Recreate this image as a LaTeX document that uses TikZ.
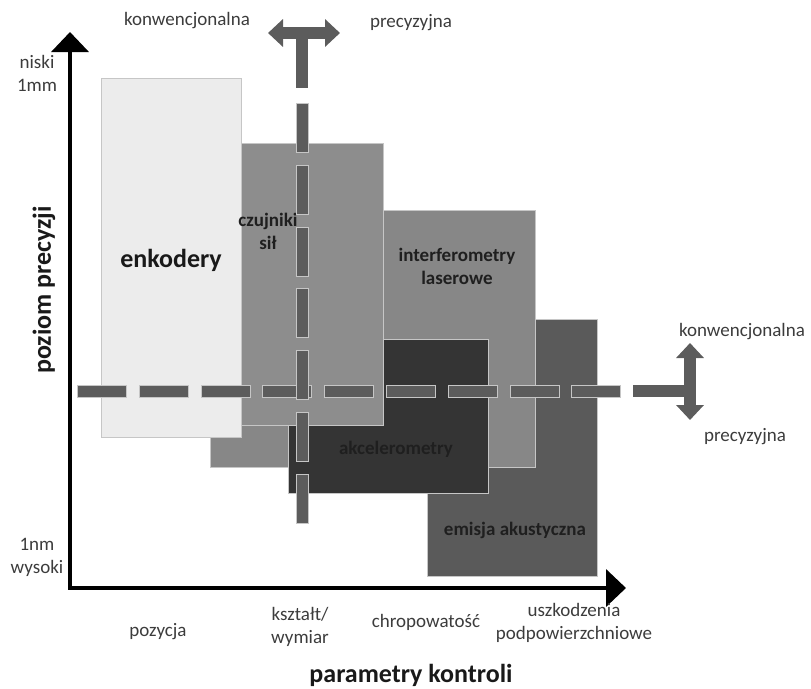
\documentclass[tikz,border=0pt]{standalone}
\usepackage{fontspec}
\setmainfont{Carlito}
\usepackage{xcolor}
\usepackage{tikz}
\usetikzlibrary{arrows.meta, positioning}
\definecolor{PP_LIGHT}{HTML}{ECECEC}
\definecolor{PP_MID}{HTML}{8D8D8D}
\definecolor{PP_MID2}{HTML}{878787}
\definecolor{PP_DARK}{HTML}{343434}
\definecolor{PP_EMIS}{HTML}{5A5A5A}
\definecolor{PP_DASH}{HTML}{5C5C5C}
\definecolor{PP_EDGE}{HTML}{C6C6C6}
\definecolor{PP_TEXT}{HTML}{3C3C3C}
\tikzset{
  zone/.style={
    rectangle, anchor=north west, inner sep=0pt,
    draw=PP_EDGE, line width=0.8pt},
  lbl/.style={
    align=center, inner sep=0pt, text=PP_TEXT,
    font=\fontsize{19}{23}\selectfont},
  boxlbl/.style={
    align=center, inner sep=0pt, text=black!88,
    font=\bfseries\fontsize{19}{23}\selectfont},
  heading/.style={
    align=center, inner sep=0pt, text=black!90,
    font=\bfseries\fontsize{26}{30}\selectfont},
  dashbox/.style={
    rectangle, inner sep=0pt,
    fill=PP_DASH, draw=PP_EDGE, line width=0.6pt},
  axisline/.style={
    line width=4pt, line join=miter,
    {Triangle[length=20pt,width=37pt]}-{Triangle[length=20pt,width=37pt]}},
  dblarr/.style={
    line width=12pt, color=PP_DASH,
    {Triangle[length=15pt,width=27pt]}-{Triangle[length=15pt,width=27pt]}},
  stem/.style={line width=12pt, color=PP_DASH},
}

\begin{document}
\begin{tikzpicture}[x=1pt, y=-1pt]

  \useasboundingbox (0,0) rectangle (811,688);

  % measuring methods, back to front
  \node[zone, fill=PP_EMIS, minimum width=170pt, minimum height=257pt] (emis) at (427,319) {};
  \node[zone, fill=PP_MID2, minimum width=325pt, minimum height=257pt] (intf) at (210,210) {};
  \node[zone, fill=PP_DARK, minimum width=200pt, minimum height=154pt] (akc)  at (288,339) {};
  \node[zone, fill=PP_MID,  minimum width=142pt, minimum height=282pt] (czuj) at (241,143) {};
  \node[zone, fill=PP_LIGHT, minimum width=140pt, minimum height=359pt] (enk) at (101,78) {};

  \node[heading] (enkL) at (171,260) {enkodery};
  \node[boxlbl] (czujL) at (268,231) {czujniki\\sił};
  \node[boxlbl] (intfL) at (457,266) {interferometry\\laserowe};
  \node[boxlbl] (akcL)  at (396,449) {akcelerometry};
  \node[boxlbl] (emisL) at (515,530) {emisja akustyczna};

  % axes
  \coordinate (ytip)   at (70,32);
  \coordinate (origin) at (70,588);
  \coordinate (xtip)   at (626,588);
  \draw[axisline] (ytip) -- (origin) -- (xtip);

  % horizontal border line
  \foreach \i in {0,...,8}
    \node[dashbox, anchor=west, minimum width=49pt, minimum height=12pt]
      (hd\i) at (77+61.8*\i,391) {};
  \node[dashbox, draw=none, anchor=west, minimum width=57pt, minimum height=12pt]
    (hd9) at (633,391) {};
  \coordinate (hup) at (690,343);
  \coordinate (hdn) at (690,420);
  \draw[dblarr] (hup) -- (hdn);

  % vertical border line
  \foreach \i in {0,...,6}
    \node[dashbox, anchor=north, minimum width=12pt, minimum height=49pt]
      (vd\i) at (302,103+61.8*\i) {};
  \coordinate (vl)  at (268,33);
  \coordinate (vr)  at (340,33);
  \coordinate (vt)  at (302,33);
  \coordinate (vb)  at (302,88);
  \draw[stem] (vt) -- (vb);
  \draw[dblarr] (vl) -- (vr);

  % texts
  \node[lbl] (topL)  at (187,21)  {konwencjonalna};
  \node[lbl] (topR)  at (411,23)  {precyzyjna};
  \node[lbl] (rtU)   at (742,332) {konwencjonalna};
  \node[lbl] (rtD)   at (745,437) {precyzyjna};
  \node[lbl] (ylo)   at (37,73)   {niski\\1mm};
  \node[lbl] (yhi)   at (37,557)  {1nm\\wysoki};
  \node[heading, rotate=90] (ytitle) at (44,290) {poziom precyzji};

  \node[lbl] (p1) at (158,632) {pozycja};
  \node[lbl] (p2) at (300,627) {kształt/\\wymiar};
  \node[lbl] (p3) at (426,622) {chropowatość};
  \node[lbl] (p4) at (574,623) {uszkodzenia\\podpowierzchniowe};
  \node[heading] (xtitle) at (411,675) {parametry kontroli};

\end{tikzpicture}
\end{document}
